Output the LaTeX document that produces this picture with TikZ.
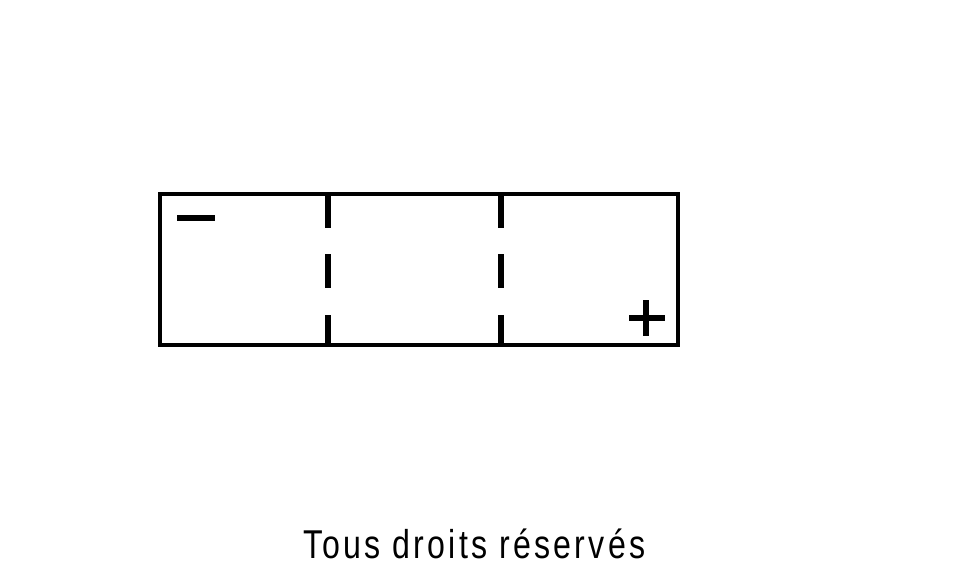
\documentclass[tikz,border=0pt]{standalone}
\usepackage{fontspec}
\setmainfont{Liberation Sans}
\begin{document}
\begin{tikzpicture}[x=1pt,y=-1pt,
  frame/.style={line width=3.5pt,draw=black},
  divider/.style={line width=5.5pt,draw=black},
  sign/.style={line width=6pt,draw=black}]
\useasboundingbox[fill=white] (0,0) rectangle (960,567);
% battery outline
\draw[frame] (160,194) rectangle (678,345);
% cell dividers (dashed)
\foreach \x in {328,501}{
  \draw[divider] (\x,194) -- (\x,228);
  \draw[divider] (\x,254) -- (\x,288);
  \draw[divider] (\x,315) -- (\x,345);
}
% minus terminal
\draw[sign] (177,218) -- (215,218);
% plus terminal
\draw[sign] (629,318) -- (665,318);
\draw[sign] (646,300) -- (646,336);
% caption
\node[anchor=base west,inner sep=0pt] (caption) at (303,558)
  {\resizebox*{342pt}{30pt}{\addfontfeatures{LetterSpace=10}Tous droits réservés}};
\end{tikzpicture}
\end{document}
